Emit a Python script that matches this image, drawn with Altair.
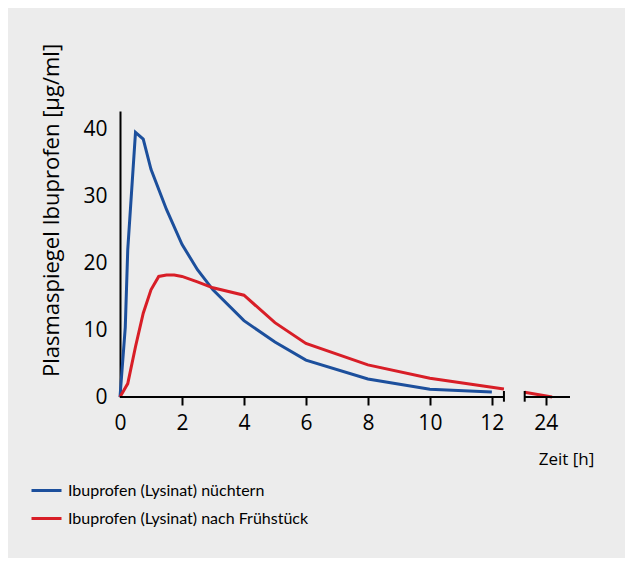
import altair as alt
import pandas as pd

# ---------------- data ----------------
blue_name = "Ibuprofen (Lysinat) nüchtern"
red_name = "Ibuprofen (Lysinat) nach Frühstück"

blue_t = [0, 0.17, 0.25, 0.5, 0.75, 1, 1.5, 2, 2.5, 3, 4, 5, 6, 8, 10, 12]
blue_c = [0, 10.4, 22, 39.5, 38.5, 34, 28, 22.8, 19, 16, 11.4, 8.2, 5.5, 2.7, 1.15, 0.75]

red_t1 = [0, 0.25, 0.5, 0.75, 1, 1.25, 1.5, 1.75, 2, 2.5, 3, 4, 5, 6, 8, 10, 12, 12.39]
red_c1 = [0, 2, 7.5, 12.5, 16, 18, 18.2, 18.2, 18, 17.2, 16.3, 15.2, 11.1, 8.0, 4.8, 2.8, 1.45, 1.2]
red_t2 = [23.0, 24.3]
red_c2 = [0.7, 0.0]

tick_hours = [0, 2, 4, 6, 8, 10, 12, 24]
y_ticks = [0, 10, 20, 30, 40]

# broken time axis: pieces (in hours) and break caps
axis_from = [0, 23.0]
axis_to = [12.39, 25.15]
cap_hours = [12.39, 23.0]

blue_col = "#1c4f9c"
red_col = "#d81e27"
font = "Lato"
font2 = "Open Sans"


def axis_pos(t):
    """Position on the broken time axis: 0-12.4 h linear, short piece around 24 h."""
    return t if t <= 12.5 else 13.74 + (t - 24) * 0.68


rows = []
for t, c in zip(blue_t, blue_c):
    rows.append({"pos": axis_pos(t), "c": c, "series": blue_name, "seg": "b1"})
for t, c in zip(red_t1, red_c1):
    rows.append({"pos": axis_pos(t), "c": c, "series": red_name, "seg": "r1"})
for t, c in zip(red_t2, red_c2):
    rows.append({"pos": axis_pos(t), "c": c, "series": red_name, "seg": "r2"})
df = pd.DataFrame(rows)

df_axis = pd.DataFrame({"x": [axis_pos(a) for a in axis_from],
                        "x2": [axis_pos(b) for b in axis_to]})
df_caps = pd.DataFrame({"x": [axis_pos(h) for h in cap_hours]})

tick_pos = [axis_pos(h) for h in tick_hours]
label_expr = "''"
for p, h in reversed(list(zip(tick_pos, tick_hours))):
    label_expr = f"abs(datum.value - {p}) < 0.01 ? '{h}' : ({label_expr})"

x_max = axis_pos(axis_to[-1])
y_max = 42.7

xscale = alt.Scale(domain=[0, x_max], nice=False, zero=False)
yscale = alt.Scale(domain=[0, y_max], nice=False)

lines = alt.Chart(df).mark_line(strokeWidth=3, strokeCap="butt").encode(
    x=alt.X("pos:Q", scale=xscale,
            axis=alt.Axis(values=tick_pos, labelExpr=label_expr, domain=False,
                          ticks=True, tickSize=8, tickWidth=2, tickColor="black",
                          tickOpacity={"condition": {"test": "datum.value == 0", "value": 0}, "value": 1},
                          labelFontSize=21, labelFont=font2, labelColor="black",
                          labelPadding=7, labelFlush=False, grid=False,
                          title="Zeit [h]", titleFont=font2, titleFontSize=17,
                          titleFontWeight="normal", titleColor="black",
                          titleX=446, titleY=62, titleAlign="center",
                          titleBaseline="middle")),
    y=alt.Y("c:Q", scale=yscale,
            axis=alt.Axis(values=y_ticks, domain=True, domainColor="black",
                          domainWidth=2, ticks=False, grid=False,
                          labelFontSize=21, labelFont=font2, labelColor="black",
                          labelPadding=13,
                          title="Plasmaspiegel Ibuprofen [µg/ml]", titleFont=font2,
                          titleFontSize=22, titleFontWeight="normal",
                          titleColor="black", titleAngle=270,
                          titleX=-69, titleY=99, titleAlign="center",
                          titleBaseline="middle")),
    color=alt.Color("series:N",
                    scale=alt.Scale(domain=[blue_name, red_name], range=[blue_col, red_col]),
                    legend=alt.Legend(title=None, orient="none", legendX=-90, legendY=363,
                                      symbolType="stroke", symbolStrokeWidth=3,
                                      symbolSize=900, labelFont=font, labelFontSize=16,
                                      labelColor="black", labelLimit=500,
                                      rowPadding=3, labelOffset=5)),
    detail="seg:N",
)

axis_line = alt.Chart(df_axis).mark_rule(color="black", strokeWidth=2).encode(
    x=alt.X("x:Q", scale=xscale), x2="x2:Q", y=alt.datum(0)
)

caps = alt.Chart(df_caps).mark_rule(color="black", strokeWidth=2).encode(
    x=alt.X("x:Q", scale=xscale), y=alt.datum(-0.7), y2=alt.datum(0.9)
)

chart = alt.layer(lines, axis_line, caps).properties(
    width=450, height=286,
    background="#ececec",
    padding={"left": 112, "top": 103, "right": 55, "bottom": 161},
    autosize=alt.AutoSizeParams(type="none"),
).configure_view(stroke=None)

chart.save("out.html", embed_options={"renderer": "svg", "actions": False})
